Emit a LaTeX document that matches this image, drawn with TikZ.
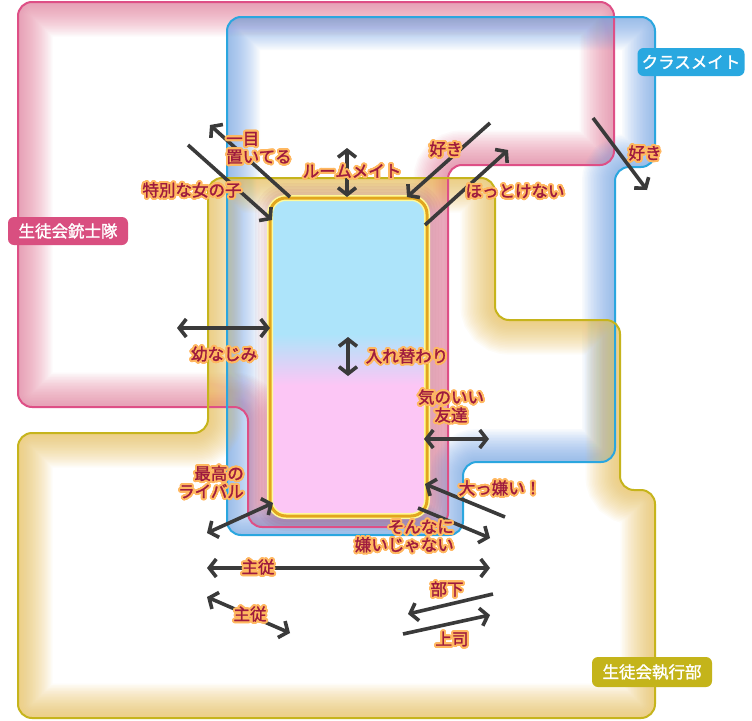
\documentclass[tikz,border=0pt]{standalone}
\usepackage{fontspec}
\setmainfont{Noto Sans CJK JP}[AutoFakeBold=1.5]
\usepackage[copies]{contour}
\usetikzlibrary{arrows.meta}
\contourlength{2pt}
\contournumber{24}
\definecolor{pinkB}{HTML}{DE4F86}
\definecolor{pinkG}{HTML}{E57898}
\definecolor{blueB}{HTML}{2AA6DF}
\definecolor{blueG}{HTML}{6A9FE6}
\definecolor{yelB}{HTML}{C6B41C}
\definecolor{yelG}{HTML}{EDBE4E}
\definecolor{txt}{HTML}{9E1A3E}
\definecolor{halo}{HTML}{FFB860}
\definecolor{arrowc}{HTML}{3A3A3A}
\definecolor{boxblue}{HTML}{ADE4FA}
\definecolor{boxpink}{HTML}{FCC6F5}
\definecolor{gold}{HTML}{E2A61E}
\definecolor{tagpink}{HTML}{D94F80}
\definecolor{tagblue}{HTML}{29A8E0}
\definecolor{tagyel}{HTML}{C4B41A}
\newcommand\gl[1]{\contour{halo}{#1}}
\def\pinkpath{(18,2) -- (614,2) -- (614,165) -- (448,165) -- (448,527) -- (248,527) -- (248,407) -- (18,407) -- cycle}
\def\bluepath{(227,17) -- (655,17) -- (655,167) -- (615,167) -- (615,462) -- (463,462) -- (463,535) -- (227,535) -- cycle}
\def\yelpath{(208,178) -- (495,178) -- (495,320) -- (620,320) -- (620,490) -- (655,490) -- (655,718) -- (18,718) -- (18,433) -- (208,433) -- cycle}
\def\cbox{(270,198) rectangle (427,516)}
\begin{document}
\begin{tikzpicture}[x=1pt,y=-1pt,
  lbl/.style={font=\fontsize{16.5}{18}\selectfont\bfseries, text=txt, inner sep=1pt},
  tag/.style={font=\fontsize{16.5}{18}\selectfont\bfseries, text=white, rounded corners=6pt, inner sep=0pt, minimum height=28pt},
  arr/.style={draw=arrowc, line width=3.6pt, -{Straight Barb[length=7pt,width=18pt]}},
  darr/.style={draw=arrowc, line width=3.6pt, {Straight Barb[length=7pt,width=18pt]}-{Straight Barb[length=7pt,width=18pt]}},
  rc/.style={rounded corners=14pt}
]
\useasboundingbox (0,0) rectangle (752,720);
\fill[white] (0,0) rectangle (752,720);
% glows
\begin{scope}
  \clip[rc] \pinkpath;
  \foreach \w in {3,6,...,70} \draw[rc, pinkG, line width=\w pt, opacity=0.045] \pinkpath;
\end{scope}
\begin{scope}
  \clip[rc] \bluepath;
  \foreach \w in {3,6,...,66} \draw[rc, blueG, line width=\w pt, opacity=0.045] \bluepath;
\end{scope}
\begin{scope}
  \clip[rc] \yelpath;
  \foreach \w in {3,6,...,70} \draw[rc, yelG, line width=\w pt, opacity=0.045] \yelpath;
\end{scope}
% halo around centre box
\foreach \w in {6,12,...,30} \draw[rounded corners=16pt, draw=purple!70!black, line width=\w pt, opacity=0.035] \cbox;
% borders
\draw[rc, pinkB, line width=2pt] \pinkpath;
\draw[rc, blueB, line width=2pt] \bluepath;
\draw[rc, yelB, line width=2pt] \yelpath;
% centre box
\fill[rounded corners=16pt, boxblue] \cbox;
\begin{scope}
  \clip[rounded corners=16pt] \cbox;
  \fill[boxpink] (270,384) rectangle (427,516);
  \shade[top color=boxblue, bottom color=boxpink] (270,334) rectangle (427,385);
\end{scope}
\draw[rounded corners=16pt, draw=yellow!40, line width=6pt] \cbox;
\draw[rounded corners=16pt, draw=gold, line width=3pt] \cbox;
% arrow end points
\coordinate (a1s) at (290,197); \coordinate (a1e) at (210,125);
\coordinate (a2s) at (188,145); \coordinate (a2e) at (272,220);
\coordinate (a3s) at (347,148); \coordinate (a3e) at (347,197);
\coordinate (a4s) at (490,123); \coordinate (a4e) at (407,197);
\coordinate (a5s) at (425,225); \coordinate (a5e) at (508,150);
\coordinate (a6s) at (593,118); \coordinate (a6e) at (647,190);
\coordinate (a7s) at (177,328); \coordinate (a7e) at (270,328);
\coordinate (a8s) at (348,337); \coordinate (a8e) at (348,376);
\coordinate (a9s) at (424,439); \coordinate (a9e) at (489,439);
\coordinate (a10s) at (207,533); \coordinate (a10e) at (273,503);
\coordinate (a11s) at (505,517); \coordinate (a11e) at (425,484);
\coordinate (a12s) at (418,508); \coordinate (a12e) at (490,538);
\coordinate (a13s) at (207,568); \coordinate (a13e) at (490,568);
\coordinate (a14s) at (207,597); \coordinate (a14e) at (290,633);
\coordinate (a15s) at (493,594); \coordinate (a15e) at (408,614);
\coordinate (a16s) at (403,634); \coordinate (a16e) at (490,615);
\draw[arr] (a1s) -- (a1e);
\draw[arr] (a2s) -- (a2e);
\draw[darr] (a3s) -- (a3e);
\draw[arr] (a4s) -- (a4e);
\draw[arr] (a5s) -- (a5e);
\draw[arr] (a6s) -- (a6e);
\draw[darr] (a7s) -- (a7e);
\draw[darr] (a8s) -- (a8e);
\draw[darr] (a9s) -- (a9e);
\draw[darr] (a10s) -- (a10e);
\draw[arr] (a11s) -- (a11e);
\draw[arr] (a12s) -- (a12e);
\draw[darr] (a13s) -- (a13e);
\draw[darr] (a14s) -- (a14e);
\draw[arr] (a15s) -- (a15e);
\draw[arr] (a16s) -- (a16e);
% labels
\node[lbl, anchor=west, align=left] (l1) at (225,149) {\gl{一目}\\\gl{置いてる}};
\node[lbl] (l2) at (192,191) {\gl{特別な女の子}};
\node[lbl] (l3) at (352,172) {\gl{ルームメイト}};
\node[lbl] (l4) at (446,150) {\gl{好き}};
\node[lbl] (l5) at (515,192) {\gl{ほっとけない}};
\node[lbl] (l6) at (645,154) {\gl{好き}};
\node[lbl] (l7) at (224,355) {\gl{幼なじみ}};
\node[lbl] (l8) at (407,357) {\gl{入れ替わり}};
\node[lbl, align=center] (l9) at (451,407) {\gl{気のいい}\\\gl{友達}};
\node[lbl, anchor=east, align=right] (l10) at (245,483) {\gl{最高の}\\\gl{ライバル}};
\node[lbl] (l11) at (500,489) {\gl{大っ嫌い！}};
\node[lbl, anchor=east, align=right] (l12) at (455,537) {\gl{そんなに}\\\gl{嫌いじゃない}};
\node[lbl] (l13) at (258,568) {\gl{主従}};
\node[lbl] (l14) at (250,615) {\gl{主従}};
\node[lbl] (l15) at (447,590) {\gl{部下}};
\node[lbl] (l16) at (452,640) {\gl{上司}};
% tags
\node[tag, fill=tagpink, minimum width=120pt] (t1) at (68,231) {生徒会銃士隊};
\node[tag, fill=tagblue, minimum width=107pt] (t2) at (691,62) {クラスメイト};
\node[tag, fill=tagyel, minimum width=120pt, minimum height=30pt] (t3) at (652,672) {生徒会執行部};
\end{tikzpicture}
\end{document}
